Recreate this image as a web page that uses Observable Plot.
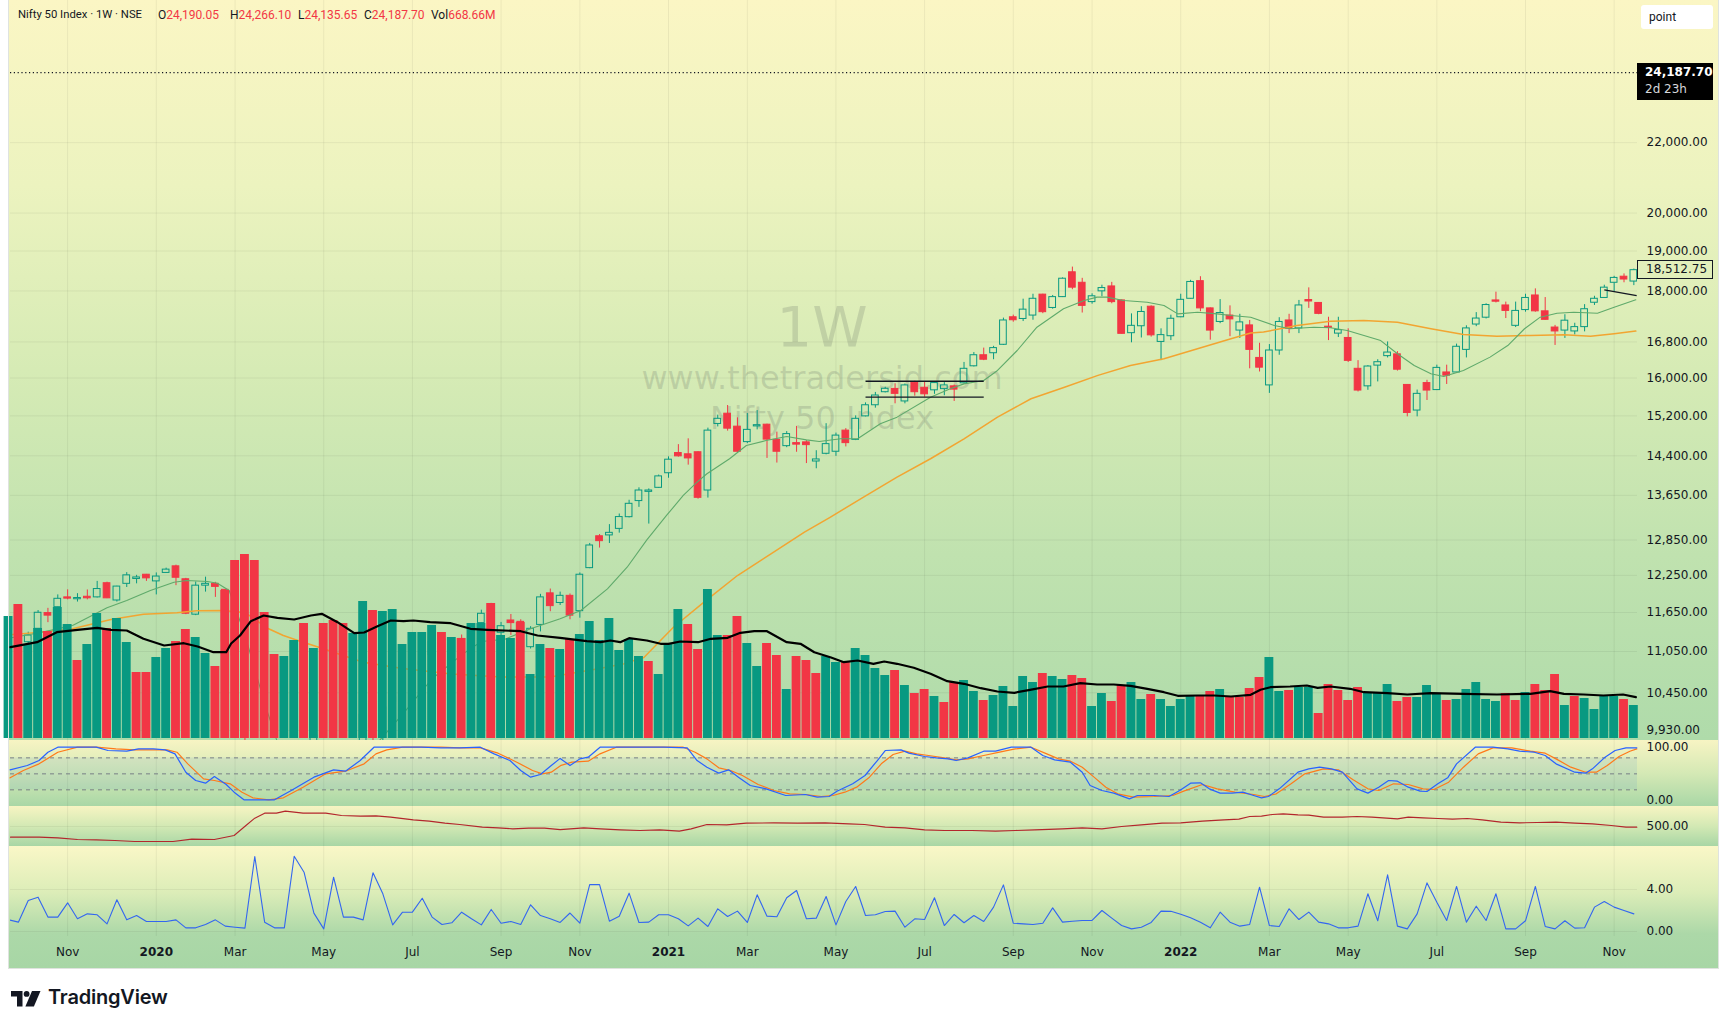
<!DOCTYPE html>
<html>
<head>
<meta charset="utf-8">
<title>Nifty 50 Index · 1W · NSE</title>
<script src="https://cdn.jsdelivr.net/npm/d3@7"></script>
<script src="https://cdn.jsdelivr.net/npm/@observablehq/plot@0.6"></script>
<style>
html,body{margin:0;padding:0;background:#fff;}
#root{position:relative;width:1728px;height:1029px;overflow:hidden;background:#fff;font-family:"DejaVu Sans",sans-serif;color:#131722;}
.bg{position:absolute;left:9px;width:1709px;}
.layer{position:absolute;left:10px;}
.layer svg{overflow:visible;display:block;}
.wm{position:absolute;left:0;width:1644px;text-align:center;color:rgba(100,108,100,0.22);white-space:nowrap;font-family:"DejaVu Sans",sans-serif;line-height:1;}
</style>
</head>
<body>
<div id="root">
  <div class="bg" style="top:0;height:740px;background:linear-gradient(180deg,#fbf6c4 0%,#ecf3bf 25%,#d6ebb5 50%,#c0e2af 75%,#afdbaa 100%);"></div>
  <div class="bg" style="top:740px;height:66px;background:linear-gradient(180deg,#f7f4c3 0%,#d5e9b5 50%,#a9d7a6 100%);"></div>
  <div class="bg" style="top:806px;height:40px;background:linear-gradient(180deg,#f7f4c2 0%,#d3e9b4 50%,#a8d6a5 100%);"></div>
  <div class="bg" style="top:846px;height:122px;background:linear-gradient(180deg,#faf7c7 0%,#dcedb8 38%,#acd8a8 72%,#a7d6a5 100%);"></div>
  <div class="wm" style="top:298.6px;font-size:56px;">1W</div>
  <div class="wm" style="top:361.9px;font-size:32px;">www.thetradersid.com</div>
  <div class="wm" style="top:401.9px;font-size:32px;">Nifty 50 Index</div>
</div>
<script>
// ---------------- DATA ----------------
const weekDates = d3.utcMonday.range(new Date("2019-09-23"), new Date("2022-11-22"));

const open = [11271,11474,11190,11395,11640,11733,11890,11860,11900,11890,
12120,11840,12110,12190,12260,12150,12290,12400,12185,11615,
12080,12110,12012,11387,10742,9587,7945,8385,8446,9000,
9390,9259,9533,9384,9158,9099,9726,10326,9919,10319,
10282,10724,10851,10999,11225,11057,11240,11248,11483,11778,
11334,11524,11503,11115,11455,11955,11800,11915,11670,12370,
12915,12930,13045,13253,13545,13715,13790,14065,14455,14430,
14470,13740,15035,15245,14980,14670,14985,15020,14715,14590,
14650,14665,14290,14440,14480,14900,14715,15190,15420,15695,
15765,15500,15895,15790,15735,15760,15820,15885,16255,16500,
16545,16735,17370,17330,17410,17910,17590,17850,18460,18200,
17730,17990,18110,17770,17000,17160,17620,16800,16930,17370,
17810,18240,17580,17260,17410,17060,17180,16440,15840,16606,
17295,17110,17780,17710,17150,16990,16890,16200,15820,16270,
16480,16520,15850,15310,15890,15740,16120,16120,16620,17200,
17360,17770,17650,17170,17540,17890,17510,17130,17060,17040,
17140,17715,17830,18200,18350,18230];
const high = [11694,11475,11343,11680,11715,11930,12012,11950,12010,12150,
12137,12070,12295,12250,12265,12290,12370,12420,12200,12140,
12220,12135,12012,11434,10751,9602,8800,8750,9131,9324,
9390,9889,9533,9584,9178,9598,10229,10329,10272,10553,
10631,10848,10933,11226,11240,11257,11300,11460,11686,11794,
11494,11618,11535,11428,11939,12025,11975,11945,12290,12790,
12945,13120,13310,13560,13790,13770,14030,14380,14620,14735,
14480,14950,15215,15415,15160,15250,15310,15030,14870,14880,
14985,14700,14500,15040,14850,14940,15200,15470,15690,15800,
15875,15870,15930,15915,15915,15900,15850,16340,16560,16660,
16700,17350,17420,17800,17920,17920,17890,18320,18590,18310,
17930,18140,18210,17780,17450,17620,17640,17100,17420,17920,
18260,18350,17590,17790,17640,17440,17295,16770,16740,17360,
17440,17770,18075,17720,17370,17370,17100,16380,16270,16400,
16800,16580,15850,15740,15950,16280,16280,16750,17170,17480,
17690,17970,17730,17730,17920,18050,17840,17180,17430,17230,
17670,17870,18140,18360,18420,18540];
const low = [11250,11090,11140,11370,11490,11700,11850,11815,11850,11880,
11870,11815,12050,12110,12150,11930,12285,12080,11615,11600,
11975,11890,11175,10827,9508,8555,7511,8055,8360,8822,
8909,9141,9116,9044,8806,8968,9706,9729,9544,10194,
10224,10676,10562,10980,10882,10882,11112,11144,11400,11303,
11185,11293,10790,11088,11347,11661,11760,11535,11560,12360,
12710,12790,12970,13240,13430,13130,13780,13970,14375,14220,
13580,13600,14975,14890,14450,14640,14915,14350,14260,14560,
14470,14250,14150,14420,14390,14575,14700,15180,15360,15680,
15450,15450,15610,15590,15650,15620,15500,15870,16240,16380,
16400,16720,17255,17270,17300,17455,17560,17840,18030,17470,
17680,17860,17690,16980,16780,16890,16910,16380,16830,17360,
17800,17500,16840,17220,16920,16880,16200,16130,15670,16500,
16990,16990,17580,17430,16830,16900,16340,15700,15735,15915,
16440,16150,15180,15180,15520,15730,15860,16110,16440,17150,
17330,17710,17340,17130,17490,17490,17300,16720,16880,16960,
17030,17650,17830,17980,18200,18130];
const close = [11512,11174,11292,11645,11600,11867,11870,11880,11875,12025,
11875,12065,12250,12215,12200,12230,12345,12210,11630,12080,
12110,12060,11201,10989,9955,8745,8660,8084,9112,9267,
9154,9860,9251,9137,9039,9580,10142,9972,10244,10383,
10607,10768,10901,11194,11073,11214,11180,11372,11629,11333,
11435,11483,11050,11395,11890,11750,11915,11600,12260,12755,
12830,12975,13255,13495,13740,13740,14005,14325,14390,14350,
13605,14900,15140,14940,14480,14915,15010,14720,14480,14830,
14620,14610,14330,14630,14800,14650,15140,15420,15625,15768,
15660,15840,15695,15650,15890,15840,15750,16200,16500,16400,
16660,17295,17300,17550,17810,17490,17850,18300,18080,17640,
17870,18070,17730,16985,17170,17495,16950,16955,17335,17785,
18220,17580,17060,17470,17320,17250,16620,16225,16606,17260,
17100,17650,17745,17450,17120,17070,16375,15730,16250,16345,
16560,16180,15260,15660,15730,16220,16050,16690,17110,17340,
17660,17740,17520,17520,17830,17510,17310,17040,17290,17140,
17560,17810,18080,18320,18280,18512.75];

// weekly volume (millions) and bar colour (g = up vs previous close, r = down)
const volume = [1220,1340,940,1100,1070,1310,1140,780,940,1250,
1100,1200,960,660,660,810,900,970,1090,1010,
850,720,1480,1780,1840,1780,1260,840,820,980,
1150,900,1150,1180,1150,1050,1370,1280,1270,1290,
940,1060,1060,1130,1060,1010,1000,1150,1150,1350,
1030,1000,1160,640,940,900,890,990,1040,1170,
980,1200,880,990,820,770,640,940,1290,1140,
890,1490,1030,1030,1220,950,720,950,830,490,
820,780,650,820,760,760,900,830,700,630,
680,530,450,490,420,360,560,580,470,380,
430,520,320,620,560,650,620,590,630,600,
320,450,370,530,560,390,440,390,320,390,
420,420,470,490,410,410,500,610,810,470,
480,510,510,250,540,480,380,510,460,460,
540,370,410,410,530,450,380,390,490,560,
390,370,450,380,460,540,480,640,330,420,
400,290,430,420,390,330];
const volumeDir = "grggrggrgg" + "rggrrggrrg" + "grrrrrrrgg" + "rgrrrggrgg" + "ggggrgrggr" +
  "ggrggrgrgg" + "gggggrgggr" + "rggrrggrrg" + "rrrggrgggg" + "rgrrgrrggr" +
  "gggggrggrr" + "ggrrggrggg" + "grrgrrrrgg" + "rggrrrrrgg" + "grrgggrggg" +
  "ggrrgrrrgr" + "ggggrg";

// volume moving average [week index, value]
const volumeMA = [[0.2,913],[2.9,963],[4.9,1063],[7,1087],[9,1107],[10.4,1087],[12,1080],[13.7,997],[15.8,930],[17.8,953],[19.2,920],[20.8,863],[22.1,863],[22.6,950],[23.5,1030],[24.6,1173],[25.9,1230],[27.3,1207],[29,1190],[30.7,1230],[31.8,1247],[33.4,1163],[35.1,1053],[36.1,1060],[37.4,1120],[38.8,1180],[40.1,1173],[41.1,1180],[42.8,1163],[44.9,1153],[46.9,1097],[48.6,1087],[52,1073],[53.7,1030],[56,1007],[58.7,973],[60.1,963],[61.1,980],[62.1,963],[63,1003],[64.8,980],[66.2,947],[67,947],[68.2,970],[70,963],[71.3,997],[73,1007],[74.3,1057],[75.7,1073],[77,1073],[79,963],[80.4,947],[81.8,863],[83.5,810],[84.8,763],[86.2,780],[87.8,747],[88.9,770],[90.2,747],[91.9,707],[93.6,647],[95.3,573],[97,547],[98.7,503],[100.4,470],[102.1,457],[103.7,487],[105.5,520],[107.1,520],[108.8,553],[110.5,540],[112.2,540],[113.9,527],[115.6,497],[117.3,463],[118.7,427],[120.7,430],[122.4,430],[124.1,420],[126.1,437],[127.1,487],[128.1,513],[130.1,520],[131.8,530],[132.9,507],[134.2,520],[136.2,497],[137.6,463],[140,453],[142,440],[144.4,453],[147.7,447],[151.1,440],[154.5,447],[156.5,473],[157.9,447],[159.9,440],[161.9,430],[163.9,440],[165.2,413]];

// fast (green) and slow (orange) moving averages [week index, price]
const emaFast = [[0,11250],[3,11330],[6.5,11446],[10,11725],[12,11840],[14.4,12001],[16.8,12137],[18.1,12164],[20.2,12148],[21.2,12120],[22.4,12001],[24,11300],[26,10300],[28,9500],[31,9300],[34,9250],[37,9700],[40,10150],[43,10650],[46,11000],[48,11200],[50.4,11236],[53,11395],[56,11550],[58.1,11681],[60.8,12028],[62.8,12385],[64.8,12853],[66.8,13284],[68.5,13648],[69.9,13896],[70.9,14055],[73.2,14343],[74.9,14603],[76.9,14701],[79,14782],[81,14715],[82.3,14681],[84.5,14736],[86.2,14736],[88.5,15038],[90.2,15174],[93.6,15590],[95.6,15767],[97,15873],[99,15946],[100.4,16164],[102.4,16606],[104.4,17138],[107.1,17570],[109.2,17769],[110.5,17850],[111.5,17850],[113.2,17769],[115.6,17728],[117.3,17648],[118.7,17450],[120.7,17489],[122.7,17450],[124.1,17411],[126.1,17372],[128.5,17178],[130.1,17102],[132.5,17138],[134.2,17124],[135.9,17061],[137.6,16946],[139.3,16831],[141,16532],[142.7,16273],[144.4,16092],[145.7,16033],[147.7,16164],[150.4,16458],[152.2,16718],[153.9,17102],[155.5,17372],[157.2,17466],[158.9,17489],[161.3,17466],[163,17608],[165.2,17785]];
const emaSlow = [[0,11300],[3,11340],[6.5,11395],[10.4,11540],[13.7,11622],[17.1,11647],[19.1,11676],[21.7,11681],[24,11650],[26.4,11395],[27.9,11292],[29.6,11205],[31.5,11115],[36,10890],[40,10800],[45,10720],[50,10675],[55,10675],[60,10800],[62.5,10870],[64.5,10960],[67.5,11419],[70.6,11813],[74,12247],[77.4,12611],[80.8,12987],[83.4,13251],[86.8,13617],[90.2,13990],[93.6,14343],[97,14735],[100.4,15174],[103.8,15556],[107.2,15802],[110.6,16056],[113.9,16274],[117.3,16422],[120.7,16645],[124.1,16873],[126.1,17002],[127.4,17025],[130.8,17178],[134.2,17279],[137.6,17294],[141,17255],[144.4,17102],[147.7,16971],[151.1,16932],[154.5,16948],[157.9,16964],[160.6,16932],[163,16987],[165.2,17048]];

// drawn trend lines
const trendLines = [
  {from:"2021-05-24", to:"2021-08-16", v1:15930, v2:15930},
  {from:"2021-05-24", to:"2021-08-16", v1:15590, v2:15590},
  {from:"2022-10-31", to:"2022-11-23", v1:18025, v2:17885}
];

// stochastic %K (blue) and %D (orange) [week index, value]
const stochK = [[0.16,57.5],[1.9,65.6],[3.1,75],[4,90.6],[5,100],[7,100],[8.9,100],[10.1,93.8],[12,92.5],[13.2,96.9],[14.7,96.9],[15.9,95],[16.9,87.5],[18,53.1],[19,37.5],[20,32.5],[20.9,45],[22.1,30],[22.9,15.6],[23.9,1.3],[25.6,1.3],[27,1.3],[28.7,18.8],[31,43.8],[33,57.5],[34.2,55],[35.7,75],[37.1,100],[38.4,100],[40,100],[41.9,100],[43.9,98.8],[45.8,98.8],[47.9,100],[49.3,87.5],[50.9,75],[52,56.3],[53,43.8],[54,48.8],[55.1,65.6],[56,79],[57,65.6],[58,78.1],[58.85,81.3],[60.05,100],[61.7,100],[64.1,100],[66.5,100],[68.9,98.8],[69.9,75],[70.9,62.5],[72.1,51.3],[73.1,57.5],[74.1,43.8],[75.3,28.1],[76.9,21.9],[78.9,9.4],[80.9,11.3],[82.1,6.3],[83.3,7.5],[84.1,17.5],[85.7,31.3],[86.95,46.9],[88.2,75],[89,93.8],[90.6,95],[91.4,88.8],[93,82.5],[94.2,80],[95.4,78.1],[96.2,75],[97.4,80],[99,92.5],[100.2,92.5],[101.8,100],[103.8,100],[105,84.4],[106.2,76.3],[107.8,71.9],[109,53.1],[109.8,28.1],[111,18.8],[112.2,13.8],[113.8,3.1],[114.6,9.4],[116.3,9.4],[117.8,7.5],[118.9,18.8],[120,32.5],[121,33.1],[121.9,21.9],[123,13.8],[124.2,13.8],[125.3,15.6],[126.4,9.4],[127.2,5],[127.9,7.5],[129,21.9],[130.9,53.1],[132,59.4],[133.1,62.5],[134.3,59.4],[135.4,53.1],[136.9,21.9],[138,13.8],[139.1,25],[140.1,37.5],[141,36.3],[142.1,25],[143.3,17.5],[144,16.9],[145.1,31.3],[146.1,42.5],[147,68.8],[148.9,100],[150.7,100],[152.2,96.9],[153.4,92.5],[154.9,90.6],[156,84.4],[157.1,68.8],[159,53.1],[160.1,51.3],[160.8,59.4],[162,80],[163.1,93.8],[164.2,98.8],[165.3,98.8]];
const stochD = [[0.16,42.5],[1.5,56.3],[3.1,68.8],[5,90.6],[7,100],[8.9,100],[10.9,96.9],[12.8,95],[14.7,95],[16.1,95],[17.1,90.6],[18.2,68.8],[19.8,40.6],[20.9,37.5],[22.5,31.3],[23.7,15.6],[24.8,5],[26.4,1.3],[27.9,5],[29.9,25],[32.2,50],[34.2,55],[36.1,68.8],[37.3,87.5],[38.4,95],[40,100],[41.9,100],[43.9,100],[45.8,98.8],[47.9,98.8],[49.7,88.8],[51.6,71.9],[53.2,56.3],[54.2,50],[55.1,53.1],[56.1,66],[57.2,71.9],[58.85,73.8],[60.05,87.5],[61.7,100],[64.1,100],[66.5,100],[68.5,100],[69.7,90.6],[70.9,78.1],[72.1,61.3],[73.3,56.3],[74.5,46.9],[76.1,30],[77.7,18.8],[79.3,12.5],[80.9,11.3],[82.5,7.5],[83.7,9.4],[84.9,15.6],[86.1,25],[87.4,43.8],[88.6,68.8],[89.8,86.3],[91,92.5],[92.2,87.5],[93.4,84.4],[95,80],[96.2,76.3],[97.4,78.1],[99,84.4],[100.6,90.6],[102.2,96.9],[103.8,100],[105.4,87.5],[106.6,78.1],[107.8,73.8],[109,62.5],[110.2,43.8],[111.4,25],[112.6,12.5],[114.2,6.3],[116.3,7.5],[118.2,9.4],[119.3,17.5],[121.2,30],[122.7,21.9],[124.5,15.6],[126.4,11.3],[127.5,7.5],[128.7,12.5],[130.2,31.3],[131.6,50],[133.5,59.4],[135,57.5],[136.5,38.8],[138,21.9],[139.1,18.8],[140.6,31.3],[142.1,30],[143.6,21.9],[144.7,20.6],[146.2,34.4],[147.7,62.5],[149.2,87.5],[150.7,98.8],[152.6,98.8],[154.5,92.5],[156,88.8],[157.1,78.1],[158.6,62.5],[160.1,53.1],[161.2,53.1],[162.3,65.6],[163.5,82.5],[164.6,92.5],[165.3,96.9]];

// average true range (red line) [week index, value]
const atr = [[0.2,287],[3.1,287],[5,273],[7,240],[8.9,233],[10.8,220],[12.8,200],[14.7,200],[16.7,200],[18.6,247],[20.9,240],[22.9,320],[24.1,520],[25,667],[26,767],[27.2,767],[28.1,807],[29.9,767],[32.2,767],[33.8,720],[35.7,707],[37.3,713],[38.8,687],[41.1,633],[42.7,607],[44.3,567],[45.8,540],[48.1,487],[49.7,473],[51.2,453],[52.8,467],[54.4,467],[56,437],[58.4,473],[60.1,453],[62.1,433],[64.1,420],[66.1,433],[68.1,407],[69.3,453],[70.9,540],[72.9,533],[74.9,567],[77.7,573],[80.1,567],[82.9,573],[85.3,553],[86.9,540],[89,487],[91,473],[93,433],[95,420],[97.8,420],[100.2,407],[102.2,420],[104.2,433],[107,453],[109,473],[111,453],[113,500],[115,533],[117.1,567],[119,573],[121.2,607],[123.4,633],[124.9,647],[126,700],[127.2,707],[128.3,740],[129.4,753],[130.9,733],[132,727],[133.5,687],[135.4,687],[136.9,700],[138.4,687],[139.9,667],[141,653],[142.1,687],[143.6,673],[145.1,660],[146.6,647],[148.1,660],[149.6,633],[151.5,587],[153.4,573],[155.2,580],[157.1,587],[159,567],[160.8,553],[162.7,520],[164.2,487],[165.3,487]];

// bottom oscillator, one value per week
const osc = [1.11,0.89,2.95,3.27,1.37,1.37,2.73,1.21,1.68,1.59,
0.73,3.02,1.11,1.52,0.95,0.95,0.95,1.11,0.35,0.35,
0.67,1.11,0.51,0.41,0.32,7.14,0.89,0.35,0.35,7.17,
5.65,1.75,0.25,5.17,1.37,1.37,1.11,5.59,3.59,0.63,
1.84,1.84,3.17,1.37,0.67,0.83,1.84,1.21,0.63,2.10,
0.79,0.95,0.67,2.54,1.52,1.21,0.86,1.76,0.79,4.46,
4.46,0.98,1.46,3.65,0.86,0.89,1.59,1.59,1.21,0.54,
1.27,0.48,2.16,1.43,1.94,0.86,3.49,1.46,1.40,3.21,
3.90,1.21,1.27,3.33,0.63,2.86,4.29,1.52,1.59,1.90,
1.94,0.41,1.21,1.14,3.21,0.57,1.62,0.83,1.52,0.95,
2.32,4.44,0.79,0.73,0.67,0.79,2.25,0.89,0.98,1.05,
1.05,2.00,1.27,0.57,0.25,0.41,0.86,1.94,1.92,1.65,
1.30,0.89,0.35,1.84,0.89,0.51,0.67,4.22,0.57,0.48,
2.16,1.14,1.84,0.89,0.73,0.35,0.35,0.51,3.59,1.02,
5.40,0.51,0.25,1.68,4.63,2.79,1.05,4.29,0.89,2.41,
1.05,3.59,0.25,0.25,1.02,4.29,0.48,0.25,1.02,0.32,
0.35,2.32,2.86,2.32,2.00,1.68];

const priceTicks = [9930,10450,11050,11650,12250,12850,13650,14400,15200,16000,16800,18000,19000,20000,22000];
const monthTickDates = ["2019-11-04","2020-01-06","2020-03-02","2020-05-04","2020-07-06","2020-09-07","2020-11-02","2021-01-04","2021-03-01","2021-05-03","2021-07-05","2021-09-06","2021-11-01","2022-01-03","2022-03-07","2022-05-02","2022-07-04","2022-09-05","2022-11-07"];
const monthTickLabels = ["Nov","2020","Mar","May","Jul","Sep","Nov","2021","Mar","May","Jul","Sep","Nov","2022","Mar","May","Jul","Sep","Nov"];
const lastPrice = 24187.70;
const lastClose = 18512.75;
const stochTicks = [0, 100];
const atrTicks = [500];
const oscTicks = [0, 4];

// ---------------- DRAWING ----------------
const root = document.getElementById("root");
const TEAL = "#089981", RED = "#f23645", INK = "#131722", FONT = "DejaVu Sans";
const WEEK = 7 * 864e5;
const T0 = +weekDates[0];
const at = i => new Date(T0 + i * WEEK);
const xDomain = [at(0.2), at(165.37)];
const fmt = d3.format(",.2f");

const candles = weekDates.map((date, i) => ({i, date, open: open[i], high: high[i], low: low[i], close: close[i]}));
const up = candles.filter(d => d.close >= d.open);
const down = candles.filter(d => d.close < d.open);
const vols = weekDates.map((date, i) => ({i, date, v: volume[i], dir: volumeDir[i]}));
const pts = arr => arr.map(([i, v]) => ({date: at(i), v}));
const months = monthTickDates.map((s, k) => ({date: new Date(s), label: monthTickLabels[k]}));

function pane(height, y, marks) {
  return Plot.plot({
    width: 1708, height, marginLeft: 0, marginRight: 81, marginTop: 0, marginBottom: 0,
    x: {type: "utc", domain: xDomain, axis: null},
    y: Object.assign({axis: null}, y),
    style: {background: "transparent", overflow: "visible", fontFamily: FONT, fontSize: "12px", color: INK},
    marks
  });
}
function place(svg, top) {
  const d = document.createElement("div");
  d.className = "layer";
  d.style.top = top + "px";
  d.appendChild(svg);
  root.appendChild(d);
  return svg;
}
const vgrid = (opts = {}) => Plot.ruleX(months, Object.assign({x: "date", stroke: "#000", strokeOpacity: 0.06}, opts));
const yLabels = vals => Plot.text(vals, {y: d => d, text: d => fmt(d), frameAnchor: "right", dx: 9, textAnchor: "start", fill: INK, fontSize: 12, fontFamily: FONT});

// price pane
const main = place(pane(740, {type: "log", domain: [9796.5, 26666], range: [740, 0]}, [
  Plot.ruleY(priceTicks, {stroke: "#000", strokeOpacity: 0.06}),
  vgrid(),
  Plot.ruleY([lastPrice], {stroke: INK, strokeDasharray: "1.2,2.6", strokeWidth: 1.1}),
  Plot.ruleX(up, {x: "date", y1: "high", y2: d => Math.max(d.open, d.close), stroke: TEAL, clip: true}),
  Plot.ruleX(up, {x: "date", y1: "low", y2: d => Math.min(d.open, d.close), stroke: TEAL, clip: true}),
  Plot.ruleX(down, {x: "date", y1: "low", y2: "high", stroke: RED, clip: true}),
  Plot.rect(down, {x1: d => at(d.i - 0.34), x2: d => at(d.i + 0.34), y1: "open", y2: "close", fill: RED, stroke: RED, strokeWidth: 1, clip: true}),
  Plot.rect(up, {x1: d => at(d.i - 0.34), x2: d => at(d.i + 0.34), y1: "open", y2: "close", fill: "none", stroke: TEAL, strokeWidth: 1, clip: true}),
  Plot.line(pts(emaSlow), {x: "date", y: "v", stroke: "#f2a531", strokeWidth: 1.5, clip: true}),
  Plot.line(pts(emaFast), {x: "date", y: "v", stroke: "#5faa6b", strokeWidth: 1.1, clip: true}),
  Plot.link(trendLines, {x1: d => new Date(d.from), x2: d => new Date(d.to), y1: "v1", y2: "v2", stroke: INK, strokeWidth: 1.4}),
  yLabels(priceTicks)
]), 0);

// volume overlay (drawn over the candles)
place(pane(740, {domain: [0, 3000], range: [738, 438]}, [
  Plot.rect(vols.filter(d => d.dir === "g"), {x1: d => at(d.i - 0.45), x2: d => at(d.i + 0.45), y1: () => 0, y2: "v", fill: TEAL}),
  Plot.rect(vols.filter(d => d.dir === "r"), {x1: d => at(d.i - 0.45), x2: d => at(d.i + 0.45), y1: () => 0, y2: "v", fill: RED}),
  Plot.line(pts(volumeMA), {x: "date", y: "v", stroke: "#000", strokeWidth: 2.2})
]), 0);

// stochastic pane
place(pane(66, {domain: [0, 100], range: [60, 6.7]}, [
  vgrid(),
  Plot.rect([0], {x1: () => xDomain[0], x2: () => xDomain[1], y1: () => 20, y2: () => 80, fill: "#2f7fd8", fillOpacity: 0.1}),
  Plot.ruleY([20, 50, 80], {stroke: "#6f7680", strokeDasharray: "4,4", strokeOpacity: 0.9}),
  Plot.line(pts(stochD), {x: "date", y: "v", stroke: "#ff7a1a", strokeWidth: 1.2}),
  Plot.line(pts(stochK), {x: "date", y: "v", stroke: "#2962ff", strokeWidth: 1.2}),
  yLabels(stochTicks)
]), 740);

// ATR pane
place(pane(40, {domain: [100, 900], range: [40, 0]}, [
  vgrid(),
  Plot.ruleY(atrTicks, {stroke: "#000", strokeOpacity: 0.05}),
  Plot.line(pts(atr), {x: "date", y: "v", stroke: "#b3262c", strokeWidth: 1.1}),
  yLabels(atrTicks)
]), 806);

// bottom oscillator + time axis
place(pane(122, {domain: [0, 4], range: [85, 43]}, [
  vgrid({insetBottom: 32}),
  Plot.ruleY(oscTicks, {stroke: "#000", strokeOpacity: 0.05}),
  Plot.line(osc.map((v, i) => ({date: weekDates[i], v})), {x: "date", y: "v", stroke: "#3366f0", strokeWidth: 1.1, clip: true}),
  yLabels(oscTicks),
  Plot.text(months.filter(d => isNaN(+d.label)), {x: "date", text: "label", frameAnchor: "bottom", dy: -13, fill: INK, fontSize: 12, fontFamily: FONT}),
  Plot.text(months.filter(d => !isNaN(+d.label)), {x: "date", text: "label", frameAnchor: "bottom", dy: -13, fill: INK, fontSize: 12, fontFamily: FONT, fontWeight: "bold"})
]), 846);

// ---------------- overlays: price labels, header, logo ----------------
const ys = main.scale("y");
function addDiv(html, css) {
  const d = document.createElement("div");
  d.innerHTML = html;
  d.style.cssText = "position:absolute;white-space:nowrap;" + css;
  root.appendChild(d);
  return d;
}
const yl = ys.apply(lastPrice);
addDiv(`<div style="font:bold 12px/17px 'DejaVu Sans';color:#fff">${fmt(lastPrice)}</div><div style="font:12px/17px 'DejaVu Sans';color:#d6d8dc">2d 23h</div>`,
  `left:1637px;top:${yl - 9.5}px;width:68px;height:36px;padding:1px 0 0 8px;background:#000;`);
const yc = ys.apply(lastClose);
addDiv(fmt(lastClose), `left:1637px;top:${yc - 9.5}px;width:66px;height:17px;padding-left:8px;border:1px solid ${INK};font:12px/17px 'DejaVu Sans';color:${INK};`);
addDiv("point", `left:1641px;top:5px;width:64px;height:24px;padding-left:8px;background:#fff;border-radius:3px;font:12px/24px Roboto,sans-serif;color:${INK};`);

addDiv("Nifty 50 Index · 1W · NSE", "left:18px;top:8px;font:11.3px/14px Roboto,sans-serif;color:#131722;");
const hdr = [["O","24,190.05",158],["H","24,266.10",230],["L","24,135.65",298],["C","24,187.70",364],["Vol","668.66M",431]];
hdr.forEach(([k, v, x]) => addDiv(`${k}<span style="color:#f23645">${v}</span>`, `left:${x}px;top:8px;font:12px/14px Roboto,sans-serif;color:#131722;`));

addDiv(`<svg width="30" height="16" viewBox="0 0 30 16"><path d="M0 0h11.5v15.5h-5.5v-10h-6z" fill="#131722"/><circle cx="15.6" cy="2.9" r="2.9" fill="#131722"/><path d="M21 0h8.5l-6.6 15.5h-8.5z" fill="#131722"/></svg>`, "left:11px;top:991px;line-height:0;");
addDiv("TradingView", "left:48px;top:984px;font:600 20px/26px Inter,Roboto,sans-serif;color:#131722;letter-spacing:-0.2px;");

// frame edge
addDiv("", "left:8px;top:-1px;width:1709px;height:968px;border:1px solid #dfe3df;pointer-events:none;");
</script>
</body>
</html>
